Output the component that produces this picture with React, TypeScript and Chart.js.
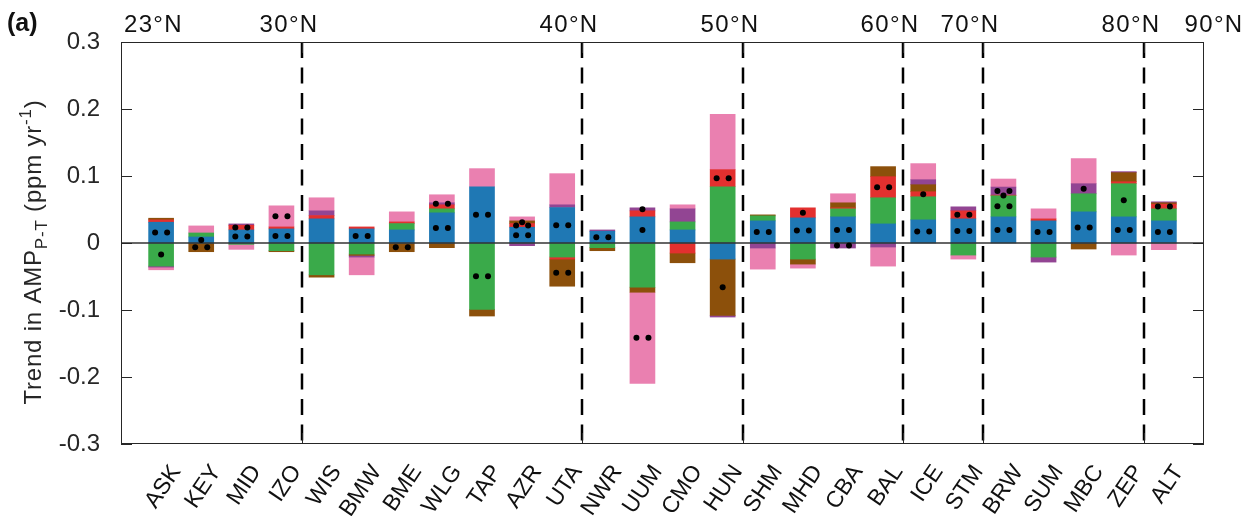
import React, { useEffect, useRef } from 'react';
import { Chart, registerables } from 'chart.js';

Chart.register(...registerables);

// ---------------- data ----------------
const STATIONS = [
  'ASK', 'KEY', 'MID', 'IZO', 'WIS', 'BMW', 'BME', 'WLG', 'TAP', 'AZR', 'UTA', 'NWR', 'UUM',
  'CMO', 'HUN', 'SHM', 'MHD', 'CBA', 'BAL', 'ICE', 'STM', 'BRW', 'SUM', 'MBC', 'ZEP', 'ALT',
];

const BLUE_VALUES = [0.031, 0.009, 0.0195, 0.021, 0.036, 0.021, 0.0195, 0.045, 0.084, 0.0235, 0.053, 0.0175, 0.039, 0.0195, -0.024, 0.033, 0.0375, 0.039, 0.0285, 0.0345, 0.036, 0.039, 0.033, 0.0465, 0.039, 0.033];
const GREEN_VALUES = [-0.0345, 0.006, -0.002, -0.0115, -0.0475, -0.0165, 0.0095, 0.006, -0.099, 0, -0.021, -0.007, -0.066, 0.012, 0.084, 0.0075, -0.024, 0.012, 0.039, 0.0345, -0.018, 0.0315, -0.021, 0.027, 0.0495, 0.018];
const RED_VALUES = [0.0035, 0, 0.007, 0.003, 0.005, 0.003, 0.0025, 0.006, 0, 0.0055, -0.003, 0, 0.009, -0.015, 0.0255, 0, 0.015, 0.0015, 0.0315, 0.0075, 0.012, 0.001, 0.003, 0, 0.003, 0.007];
const BROWN_VALUES = [0.0025, -0.013, 0, -0.0015, -0.0035, -0.002, -0.013, -0.007, -0.01, 0.004, -0.0405, -0.0045, -0.0075, -0.0145, -0.084, 0.0015, -0.0075, 0.0075, 0.015, 0.0105, 0, 0, 0, -0.009, 0.0135, 0.002];
const PURPLE_VALUES = [-0.0015, 0, 0.002, 0, 0.007, -0.0025, 0, 0.003, 0, -0.004, 0.004, 0.002, 0.0045, 0.0195, -0.0025, -0.0075, 0, -0.0075, -0.006, 0.0075, 0.006, 0.012, -0.0075, 0.015, 0.0015, 0.0015];
const PINK_VALUES = [-0.004, 0.0105, -0.0075, 0.0315, 0.0195, -0.0265, 0.015, 0.012, 0.027, 0.006, 0.0465, 0, -0.136, 0.006, 0.0825, -0.0315, -0.006, 0.0135, -0.0285, 0.024, -0.006, 0.012, 0.015, 0.0375, -0.018, -0.01];

// number of significance dots per segment (0, 1 or 2)
const BLUE_DOTS = [2, 1, 2, 2, 0, 2, 0, 2, 2, 2, 2, 2, 1, 0, 0, 2, 2, 2, 0, 2, 2, 2, 2, 2, 2, 2];
const GREEN_DOTS = [1, 0, 0, 0, 0, 0, 0, 0, 2, 0, 0, 0, 0, 0, 0, 0, 0, 0, 0, 0, 0, 2, 0, 0, 1, 0];
const RED_DOTS = [0, 0, 2, 0, 0, 0, 0, 0, 0, 2, 0, 0, 0, 0, 2, 0, 1, 0, 2, 1, 2, 1, 0, 0, 0, 2];
const BROWN_DOTS = [0, 2, 0, 0, 0, 0, 2, 0, 0, 1, 2, 0, 0, 0, 1, 0, 0, 0, 0, 0, 0, 0, 0, 0, 0, 0];
const PURPLE_DOTS = [0, 0, 0, 0, 0, 0, 0, 2, 0, 0, 0, 0, 1, 0, 0, 0, 0, 2, 0, 0, 0, 2, 0, 1, 0, 0];
const PINK_DOTS = [0, 0, 0, 2, 0, 0, 0, 0, 0, 0, 0, 0, 2, 0, 0, 0, 0, 0, 0, 0, 0, 0, 0, 0, 0, 0];

const Y_TICKS = [-0.3, -0.2, -0.1, 0, 0.1, 0.2, 0.3];
const LATITUDE_LABELS = ['23°N', '30°N', '40°N', '50°N', '60°N', '70°N', '80°N', '90°N'];
// latitude band boundaries fall between this station and the next one
const LATITUDE_BREAKS_AFTER = ['IZO', 'UTA', 'HUN', 'BAL', 'STM', 'ZEP'];

// ---------------- style ----------------
const FONT = "'Liberation Sans', Arial, Helvetica, sans-serif";
const INK = '#262626';
const DOT_SPREAD = 0.15;

type Series = { name: string; color: string; values: number[]; dots: number[] };

const SERIES: Series[] = [
  { name: 'Component 1', color: '#1f78b4', values: BLUE_VALUES, dots: BLUE_DOTS },
  { name: 'Component 2', color: '#3aaa4a', values: GREEN_VALUES, dots: GREEN_DOTS },
  { name: 'Component 3', color: '#e3302f', values: RED_VALUES, dots: RED_DOTS },
  { name: 'Component 4', color: '#8c500b', values: BROWN_VALUES, dots: BROWN_DOTS },
  { name: 'Component 5', color: '#924593', values: PURPLE_VALUES, dots: PURPLE_DOTS },
  { name: 'Component 6', color: '#ea80b0', values: PINK_VALUES, dots: PINK_DOTS },
];

function buildDots() {
  const pts: { x: number; y: number }[] = [];
  STATIONS.forEach((_, i) => {
    let pos = 0;
    let neg = 0;
    SERIES.forEach((s) => {
      const v = s.values[i];
      if (!v) return;
      let mid: number;
      if (v > 0) {
        mid = pos + v / 2;
        pos += v;
      } else {
        mid = neg + v / 2;
        neg += v;
      }
      const n = s.dots[i];
      if (n === 1) pts.push({ x: i + 1, y: mid });
      else if (n === 2) {
        pts.push({ x: i + 1 - DOT_SPREAD, y: mid });
        pts.push({ x: i + 1 + DOT_SPREAD, y: mid });
      }
    });
  });
  return pts;
}

const fmtTick = (v: number) => {
  const r = Math.round(v * 10) / 10;
  return r === 0 ? '0' : String(r);
};

const decorPlugin = {
  id: 'decor',
  afterDatasetDraw(chart: any, args: any) {
    if (args.index !== 0) return;
    const { ctx, chartArea, scales } = chart;
    const y0 = scales.y.getPixelForValue(0);
    ctx.save();
    ctx.strokeStyle = '#333333';
    ctx.lineWidth = 1.5;
    ctx.beginPath();
    ctx.moveTo(chartArea.left, y0);
    ctx.lineTo(chartArea.right, y0);
    ctx.stroke();
    ctx.restore();
  },
  afterDraw(chart: any) {
    const { ctx, chartArea, scales } = chart;
    const { left, right, top, bottom } = chartArea;
    const x = scales.x;
    const y = scales.y;
    ctx.save();

    // latitude band dashed lines
    const breaks = LATITUDE_BREAKS_AFTER.map((n) => Math.round(x.getPixelForValue(STATIONS.indexOf(n) + 1.5)));
    breaks.forEach((px) => {
      ctx.setLineDash([16, 9.5]);
      ctx.lineWidth = 2.5;
      ctx.strokeStyle = '#000000';
      ctx.beginPath();
      ctx.moveTo(px, top);
      ctx.lineTo(px, bottom);
      ctx.stroke();
      ctx.setLineDash([]);
      ctx.lineWidth = 1;
      ctx.strokeStyle = INK;
      ctx.beginPath();
      ctx.moveTo(px + 0.5, top);
      ctx.lineTo(px + 0.5, top + 11);
      ctx.moveTo(px + 0.5, bottom);
      ctx.lineTo(px + 0.5, bottom - 11);
      ctx.stroke();
    });

    // box
    ctx.setLineDash([]);
    ctx.lineWidth = 1;
    ctx.strokeStyle = INK;
    ctx.strokeRect(left + 0.5, top + 0.5, right - left - 1, bottom - top - 1);

    // inward y ticks
    ctx.beginPath();
    y.ticks.forEach((t: any) => {
      const py = Math.round(y.getPixelForValue(t.value)) + 0.5;
      ctx.moveTo(left, py);
      ctx.lineTo(left + 11, py);
      ctx.moveTo(right, py);
      ctx.lineTo(right - 11, py);
    });
    ctx.stroke();

    // latitude labels along the top
    ctx.fillStyle = '#111111';
    ctx.font = `24px ${FONT}`;
    (ctx as any).letterSpacing = '1.3px';
    ctx.textBaseline = 'alphabetic';
    const labelY = 32;
    LATITUDE_LABELS.forEach((lab, i) => {
      if (i === 0) {
        ctx.textAlign = 'left';
        ctx.fillText(lab, left + 3, labelY);
      } else if (i === LATITUDE_LABELS.length - 1) {
        ctx.textAlign = 'center';
        ctx.fillText(lab, right + 10, labelY);
      } else {
        ctx.textAlign = 'center';
        ctx.fillText(lab, breaks[i - 1] - 13, labelY);
      }
    });
    (ctx as any).letterSpacing = '0px';

    // panel tag
    ctx.textAlign = 'left';
    ctx.font = `bold 25px ${FONT}`;
    ctx.fillText('(a)', 7, 31);

    // y-axis title with subscript / superscript
    const parts = [
      { t: 'Trend in AMP', size: 24, dy: 0 },
      { t: 'P-T', size: 17, dy: 6 },
      { t: ' (ppm yr', size: 24, dy: 0 },
      { t: '-1', size: 17, dy: -10 },
      { t: ')', size: 24, dy: 0 },
    ];
    (ctx as any).letterSpacing = '0.8px';
    let total = 0;
    parts.forEach((p) => {
      ctx.font = `${p.size}px ${FONT}`;
      total += ctx.measureText(p.t).width;
    });
    ctx.translate(41, (top + bottom) / 2 + 9);
    ctx.rotate(-Math.PI / 2);
    ctx.fillStyle = INK;
    let cx = -total / 2;
    parts.forEach((p) => {
      ctx.font = `${p.size}px ${FONT}`;
      ctx.fillText(p.t, cx, p.dy);
      cx += ctx.measureText(p.t).width;
    });
    ctx.restore();
  },
};

export default function App() {
  const canvasRef = useRef<HTMLCanvasElement | null>(null);

  useEffect(() => {
    if (!canvasRef.current) return;
    Chart.defaults.font.family = FONT;

    const datasets: any[] = SERIES.map((s) => ({
      type: 'bar',
      label: s.name,
      data: s.values.map((v, i) => ({ x: i + 1, y: v === 0 ? null : v })),
      backgroundColor: s.color,
      borderWidth: 0,
      barThickness: 25,
      xAxisID: 'x',
      yAxisID: 'y',
      order: 0,
    }));
    datasets.push({
      type: 'scatter',
      label: 'Significance',
      data: buildDots(),
      pointRadius: 3,
      pointBackgroundColor: '#000000',
      pointBorderWidth: 0,
      xAxisID: 'x',
      yAxisID: 'yDots',
      order: -1,
    });

    const chart = new Chart(canvasRef.current, {
      type: 'bar',
      data: { datasets },
      options: {
        responsive: false,
        animation: false,
        events: [],
        layout: { padding: { left: 0, right: 43, top: 42, bottom: 0 } },
        plugins: { legend: { display: false }, tooltip: { enabled: false }, title: { display: false } },
        scales: {
          x: {
            type: 'linear',
            min: 0,
            max: STATIONS.length + 1,
            offset: false,
            stacked: true,
            grid: { display: false, drawTicks: false },
            border: { display: false },
            afterBuildTicks: (scale: any) => {
              scale.ticks = STATIONS.map((_, i) => ({ value: i + 1 }));
            },
            ticks: {
              autoSkip: false,
              minRotation: 56,
              maxRotation: 56,
              padding: 16,
              labelOffset: 15,
              color: '#111111',
              font: { family: FONT, size: 23 },
              callback: (v: any) => STATIONS[Math.round(v) - 1] ?? '',
            },
            afterFit: (scale: any) => {
              scale.height = 72;
            },
          },
          y: {
            type: 'linear',
            stacked: true,
            min: Y_TICKS[0],
            max: Y_TICKS[Y_TICKS.length - 1],
            grid: { display: false, drawTicks: false },
            border: { display: false },
            afterBuildTicks: (scale: any) => {
              scale.ticks = Y_TICKS.map((v) => ({ value: v }));
            },
            ticks: {
              padding: 21,
              color: INK,
              font: { family: FONT, size: 24 },
              callback: (v: any) => fmtTick(Number(v)),
            },
            afterFit: (scale: any) => {
              scale.width = 121;
            },
          },
          yDots: {
            type: 'linear',
            display: false,
            min: Y_TICKS[0],
            max: Y_TICKS[Y_TICKS.length - 1],
          },
        },
      } as any,
      plugins: [decorPlugin],
    });

    return () => chart.destroy();
  }, []);

  return (
    <div style={{ position: 'fixed', left: 0, top: 0, width: 1247, height: 516, background: '#ffffff' }}>
      <canvas ref={canvasRef} width={1247} height={516} style={{ display: 'block', width: 1247, height: 516 }} />
    </div>
  );
}
